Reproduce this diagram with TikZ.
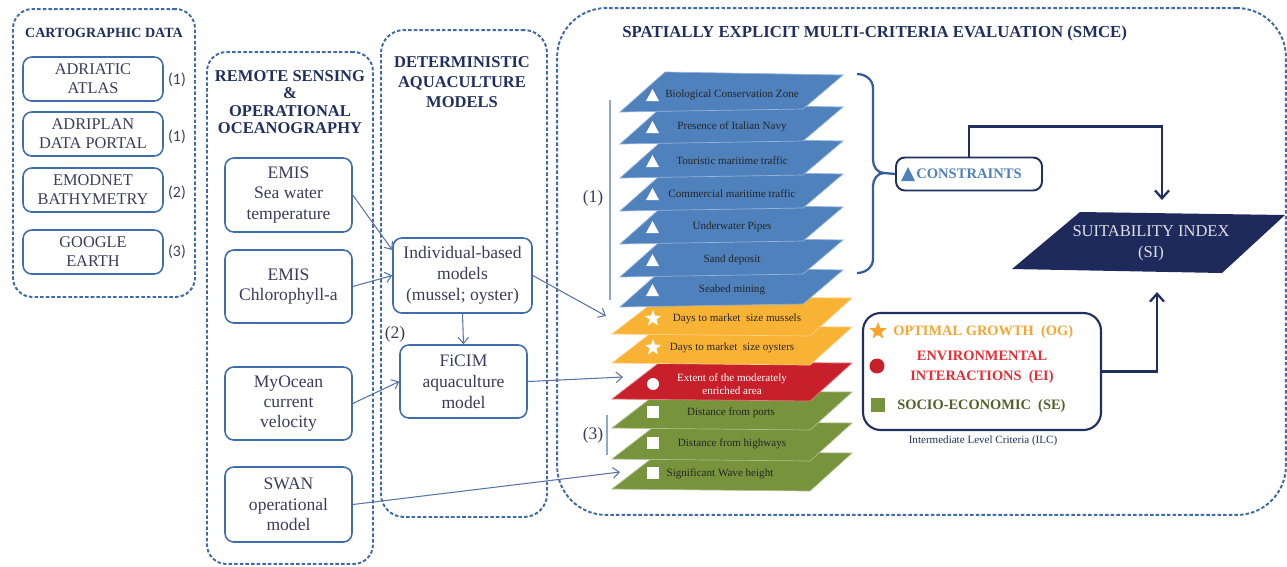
\documentclass[tikz,border=0pt]{standalone}
\usepackage{fontspec}
\setmainfont{Liberation Serif}
\newfontfamily\calib{Carlito}
\usetikzlibrary{arrows.meta,shapes.geometric}
\definecolor{grpblue}{HTML}{3D6AA8}
\definecolor{navy}{HTML}{1F2F5F}
\definecolor{boxblue}{HTML}{3E6CAD}
\definecolor{txt}{HTML}{3A3B5E}
\definecolor{lineblue}{HTML}{5873A8}
\definecolor{layblue}{HTML}{4F81BD}
\definecolor{layorange}{HTML}{F8B334}
\definecolor{layred}{HTML}{C8202A}
\definecolor{laygreen}{HTML}{77933C}
\definecolor{ogorange}{HTML}{F7A530}
\definecolor{eired}{HTML}{EE2A33}
\definecolor{setext}{HTML}{4F6228}
\definecolor{sinavy}{HTML}{1F2A5C}
\definecolor{bracketblue}{HTML}{8FA8CF}
\newcommand\layB[3]{%
  \fill[layblue, draw=layblue!60!white, line width=0.4pt] (665,#1) -- (843,#1+3) -- (803,#1+37) -- (620,#1+40) -- cycle;
  \fill[white] (646,#1+29) -- (652.5,#1+17) -- (659,#1+29) -- cycle;
  \node[laytxt] (#2) at (732,#1+23) {#3};}
\newcommand\layL[2]{%
  \fill[#2, draw=#2!60!white, line width=0.4pt] (660,#1) -- (852,#1+1) -- (810,#1+39) -- (612,#1+37) -- cycle;}
\begin{document}
\begin{tikzpicture}[x=0.02cm,y=-0.02cm,
  grp/.style={draw=grpblue, line width=1.1pt, dash pattern=on 2pt off 1.2pt, inner sep=0pt},
  ttl/.style={text=navy, align=center, inner sep=0pt},
  src/.style={draw=boxblue, line width=0.9pt, rounded corners=5pt, align=center, text=txt, inner sep=0pt, font=\fontsize{9.3}{10.8}\selectfont},
  src2/.style={src, font=\fontsize{10}{11.6}\selectfont},
  num/.style={text=txt, inner sep=0pt, font=\calib\fontsize{9}{10}\selectfont},
  lab/.style={text=txt, inner sep=0pt, font=\fontsize{10}{11}\selectfont},
  conn/.style={draw=lineblue, line width=0.6pt, -{Straight Barb[length=3.5pt,width=6pt]}},
  navyarrow/.style={draw=navy, line width=1.3pt, -{Straight Barb[length=4.5pt,width=8pt]}},
  laytxt/.style={text=black!85, inner sep=0pt, align=center, font=\fontsize{6.3}{7.4}\selectfont},
  ic/.style={fill=white, inner sep=0pt, draw=none}
]
\useasboundingbox (0,0) rectangle (1287,566);

% ---------------- Cartographic data
\node[grp, rounded corners=11pt, minimum width=3.64cm, minimum height=5.76cm] (carto) at (104,153) {};
\node[ttl, font=\bfseries\fontsize{8}{9.5}\selectfont] (cartoT) at (104,33) {CARTOGRAPHIC DATA};
\node[src, minimum width=2.8cm, minimum height=0.88cm] (atlas) at (93,79) {ADRIATIC\\ATLAS};
\node[src, minimum width=2.8cm, minimum height=0.88cm] (adriplan) at (93,134) {ADRIPLAN\\DATA PORTAL};
\node[src, minimum width=2.8cm, minimum height=0.88cm] (emodnet) at (93,190) {EMODNET\\BATHYMETRY};
\node[src, minimum width=2.8cm, minimum height=0.88cm] (google) at (93,252) {GOOGLE\\EARTH};
\node[num] (n1) at (177,80) {(1)};
\node[num] (n2) at (177,137) {(1)};
\node[num] (n3) at (177,193) {(2)};
\node[num] (n4) at (177,252) {(3)};

% ---------------- Remote sensing
\node[grp, rounded corners=11pt, minimum width=3.32cm, minimum height=10.24cm] (rs) at (290,308) {};
\node[ttl, font=\bfseries\fontsize{9.4}{10}\selectfont] (rsT) at (290,102) {REMOTE SENSING\\\&\\OPERATIONAL\\OCEANOGRAPHY};
\node[src2, minimum width=2.54cm, minimum height=1.48cm] (sst) at (288.5,195) {EMIS\\Sea water\\temperature};
\node[src2, minimum width=2.54cm, minimum height=1.46cm] (chl) at (288.5,286.5) {EMIS\\Chlorophyll-a};
\node[src2, minimum width=2.54cm, minimum height=1.46cm] (myo) at (288.5,403.5) {MyOcean\\current\\velocity};
\node[src2, minimum width=2.54cm, minimum height=1.5cm] (swan) at (288.5,504.5) {SWAN\\operational\\model};

% ---------------- Deterministic models
\node[grp, rounded corners=13pt, minimum width=3.32cm, minimum height=9.74cm] (dam) at (464,273.5) {};
\node[ttl, font=\bfseries\fontsize{9.4}{11.4}\selectfont] (damT) at (462,82) {DETERMINISTIC\\AQUACULTURE\\MODELS};
\node[src2, minimum width=2.78cm, minimum height=1.5cm, font=\fontsize{10}{12}\selectfont] (ibm) at (462.5,275.5) {Individual-based\\models\\(mussel; oyster)};
\node[src2, minimum width=2.54cm, minimum height=1.46cm, font=\fontsize{10}{12}\selectfont] (ficim) at (463.5,381.5) {FiCIM\\aquaculture\\model};
\node[lab] (n5) at (395,334) {(2)};

% ---------------- SMCE
\node[grp, rounded corners=28pt, minimum width=14.58cm, minimum height=10.14cm] (smce) at (921.5,261.5) {};
\node[ttl, anchor=west, font=\bfseries\fontsize{9.55}{11}\selectfont] (smceT) at (622,33) {SPATIALLY EXPLICIT MULTI-CRITERIA EVALUATION (SMCE)};

% layers, drawn from the bottom up
\layL{452}{laygreen}
\fill[white] (647,467) rectangle (659,479);
\node[laytxt] (l13) at (720,473.5) {Significant Wave height};
\layL{422}{laygreen}
\fill[white] (647,437) rectangle (659,449);
\node[laytxt] (l12) at (732,443.5) {Distance from highways};
\layL{391}{laygreen}
\fill[white] (647,406) rectangle (659,418);
\node[laytxt] (l11) at (731,412.5) {Distance from ports};
\layL{362}{layred}
\fill[white] (653,384) circle (6);
\node[laytxt, text=white] (l10) at (732,384) {Extent of the moderately\\enriched area};
\layL{326}{layorange}
\node[ic, star, star points=5, star point ratio=2.4, minimum size=0.34cm] (s2) at (653,347.5) {};
\node[laytxt] (l9) at (732,347.5) {Days to market\ \ size oysters};
\layL{297}{layorange}
\node[ic, star, star points=5, star point ratio=2.4, minimum size=0.34cm] (s1) at (653,318.5) {};
\node[laytxt] (l8) at (737,318.5) {Days to market\ \ size mussels};
\layB{267}{l7}{Seabed mining}
\layB{237}{l6}{Sand deposit}
\layB{204}{l5}{Underwater Pipes}
\layB{171}{l4}{Commercial maritime traffic}
\layB{138}{l3}{Touristic maritime traffic}
\layB{104}{l2}{Presence of Italian Navy}
\layB{72}{l1}{Biological Conservation Zone}

% side labels of the stack
\coordinate (b1t) at (610,100);
\coordinate (b1b) at (610,300);
\draw[bracketblue, line width=0.6pt] (b1t) -- (b1b);
\node[lab] (g1) at (593,198) {(1)};
\coordinate (b3t) at (607,415);
\coordinate (b3b) at (607,455);
\draw[bracketblue, line width=0.6pt] (b3t) -- (b3b);
\node[lab] (g3) at (593,435) {(3)};

% brace and constraints
\node[draw=navy, line width=1.1pt, rounded corners=5pt, minimum width=2.92cm, minimum height=0.66cm, inner sep=0pt, text=layblue, font=\bfseries\fontsize{8.3}{10}\selectfont] (cons) at (969,174) {CONSTRAINTS};
\fill[layblue] (901,181) -- (908,167) -- (915,181) -- cycle;
\coordinate (btip) at (884,173);
\draw[draw=grpblue!90!black, line width=1.3pt] (857,74) to[out=0,in=90] (873,88) -- (873,160) to[out=-90,in=180] (btip) to[out=180,in=90] (873,186) -- (873,259) to[out=-90,in=0] (857,273);
\draw[draw=grpblue!90!black, line width=1.3pt] (btip) -- (cons.west);

% suitability index
\fill[sinavy] (1080,212) -- (1285,215) -- (1222,273) -- (1012,269) -- cycle;
\node[text=black!12, align=center, inner sep=0pt, font=\fontsize{9.4}{12}\selectfont] (si) at (1151,243) {SUITABILITY INDEX\\(SI)};
\coordinate (siTop) at (1162,200);
\coordinate (siBot) at (1157,292);
\draw[navyarrow] (cons.north) -- ++(0,-30) -| (siTop);

% intermediate level criteria
\node[draw=navy, line width=1.2pt, rounded corners=10pt, minimum width=4.76cm, minimum height=2.34cm, inner sep=0pt] (og) at (982,371.5) {};
\node[star, star points=5, star point ratio=2.3, fill=ogorange, inner sep=0pt, minimum size=0.36cm] (ogs) at (878,331) {};
\node[anchor=west, inner sep=0pt, text=ogorange, font=\bfseries\fontsize{8.2}{10}\selectfont] (ogT) at (893,332) {OPTIMAL GROWTH\ \ (OG)};
\fill[layred] (877,366) circle (7.5);
\node[inner sep=0pt, align=center, text=eired, font=\bfseries\fontsize{8.2}{11.4}\selectfont] (eiT) at (982,367) {ENVIRONMENTAL\\INTERACTIONS\ \ (EI)};
\fill[laygreen] (871,398) rectangle (885,412);
\node[anchor=west, inner sep=0pt, text=setext, font=\bfseries\fontsize{8.2}{10}\selectfont] (seT) at (897,406) {SOCIO-ECONOMIC\ \ (SE)};
\node[inner sep=0pt, text=navy, font=\fontsize{6.3}{7.5}\selectfont] (ilc) at (983,441) {Intermediate Level Criteria (ILC)};
\draw[navyarrow] (og.east) -| (siBot);

% connectors
\coordinate (inMussel) at (606,316);
\coordinate (inExtent) at (623,377);
\coordinate (inWave) at (620,472);
\draw[conn] (sst.east) -- (ibm.160);
\draw[conn] (chl.east) -- (ibm.west);
\draw[conn] (myo.east) -- (ficim.west);
\draw[conn] (swan.east) -- (inWave);
\draw[conn] (ibm.east) -- (inMussel);
\draw[conn] (ficim.east) -- (inExtent);
\draw[conn] (ibm.south) -- (ficim.north);
\end{tikzpicture}
\end{document}
